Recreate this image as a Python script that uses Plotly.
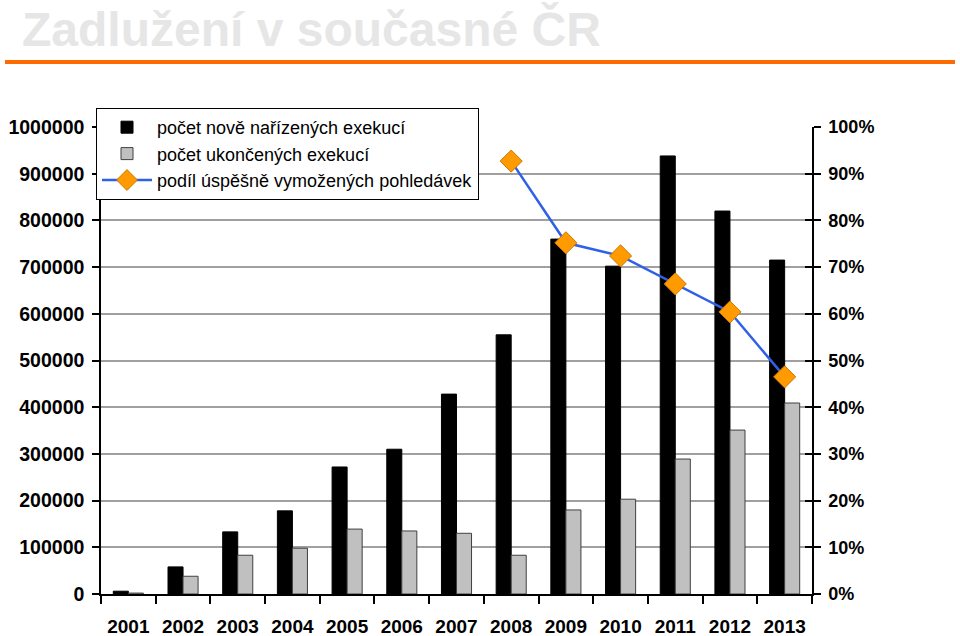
import plotly.graph_objects as go

years = ["2001", "2002", "2003", "2004", "2005", "2006", "2007", "2008", "2009", "2010", "2011", "2012", "2013"]
nove = [6000, 58000, 133000, 178000, 272000, 310000, 428000, 555000, 760000, 702000, 938000, 820000, 715000]
ukoncene = [2000, 38000, 83000, 98000, 139000, 135000, 130000, 83000, 180000, 203000, 289000, 351000, 409000]
line_years = ["2008", "2009", "2010", "2011", "2012", "2013"]
podil = [0.927, 0.752, 0.724, 0.664, 0.604, 0.465]

W, H = 960, 636
L, R, T, B = 101, 812, 127, 594  # plot area in window pixels


def px(x):
    return (x - L) / (R - L)


def py(y):
    return (B - y) / (B - T)


FONT = "Liberation Sans, Arial, sans-serif"

fig = go.Figure()
fig.add_trace(go.Bar(x=years, y=nove, name="počet nově nařízených exekucí",
                     marker=dict(color="#000000", line=dict(color="#000000", width=1))))
fig.add_trace(go.Bar(x=years, y=ukoncene, name="počet ukončených exekucí",
                     marker=dict(color="#c0c0c0", line=dict(color="#404040", width=1))))
fig.add_trace(go.Scatter(x=line_years, y=podil, name="podíl úspěšně vymožených pohledávek",
                         yaxis="y2", mode="lines+markers",
                         line=dict(color="#3060e8", width=2.5),
                         marker=dict(symbol="diamond", size=17, color="#ff9a00",
                                     line=dict(color="#c87800", width=1))))
# invisible trace to carry the inner-tick overlay axis
fig.add_trace(go.Scatter(x=[years[0]], y=[None], yaxis="y3", showlegend=False, hoverinfo="skip"))

fig.update_layout(
    width=W, height=H,
    margin=dict(l=L, r=W - R, t=T, b=H - B, autoexpand=False),
    paper_bgcolor="white", plot_bgcolor="white",
    barmode="group", bargap=0.45, bargroupgap=0,
    font=dict(family=FONT, color="#000000"),
    showlegend=True,
    legend=dict(x=px(96), y=py(108), xanchor="left", yanchor="top",
                bgcolor="white", bordercolor="#000000", borderwidth=1,
                font=dict(size=18, family=FONT, color="#000000"),
                tracegroupgap=0, itemwidth=50),
    xaxis=dict(type="category", range=[-0.5, len(years) - 0.5],
               showline=True, linecolor="#000000", linewidth=1.5,
               ticks="outside", ticklen=8, tickcolor="#000000", tickwidth=1.5,
               tickson="boundaries", showgrid=False, tickangle=0, automargin=False,
               ticklabelstandoff=14,
               tickfont=dict(size=19, family=FONT, color="#000000", weight="bold")),
    yaxis=dict(range=[0, 1000000], dtick=100000, tickformat="d", automargin=False,
               showline=True, linecolor="#000000", linewidth=1.5,
               ticks="outside", ticklen=7, tickcolor="#000000", tickwidth=1.5,
               showgrid=True, gridcolor="#a0a0a0", gridwidth=1.5, zeroline=False,
               ticklabelstandoff=4,
               tickfont=dict(size=19.5, family=FONT, color="#000000", weight="bold")),
    yaxis2=dict(range=[0, 1], dtick=0.1, tickformat=".0%", overlaying="y", side="right",
                showline=True, linecolor="#000000", linewidth=1.5, automargin=False,
                ticks="outside", ticklen=7, tickcolor="#000000", tickwidth=1.5,
                showgrid=False, zeroline=False, ticklabelstandoff=4,
                tickfont=dict(size=18, family=FONT, color="#000000", weight="bold")),
    yaxis3=dict(range=[0, 1], dtick=0.1, overlaying="y", side="right", automargin=False,
                showline=False, ticks="inside", ticklen=7, tickcolor="#000000", tickwidth=1.5,
                showgrid=False, zeroline=False, showticklabels=False),
    annotations=[dict(text="<b>Zadlužení v současné ČR</b>", xref="paper", yref="paper",
                      x=px(20), y=py(0), xanchor="left", yanchor="top", showarrow=False,
                      font=dict(size=48, family=FONT, color="#e6e6e6"))],
    shapes=[dict(type="line", xref="paper", yref="paper", x0=px(5), x1=px(955),
                 y0=py(62), y1=py(62), line=dict(color="#ff6a00", width=4))],
)

# remove the browser's default 8px body margin so the figure fills the window
fig.write_html("out.html", config={"displayModeBar": False},
               post_script="document.body.style.margin='0px';")
